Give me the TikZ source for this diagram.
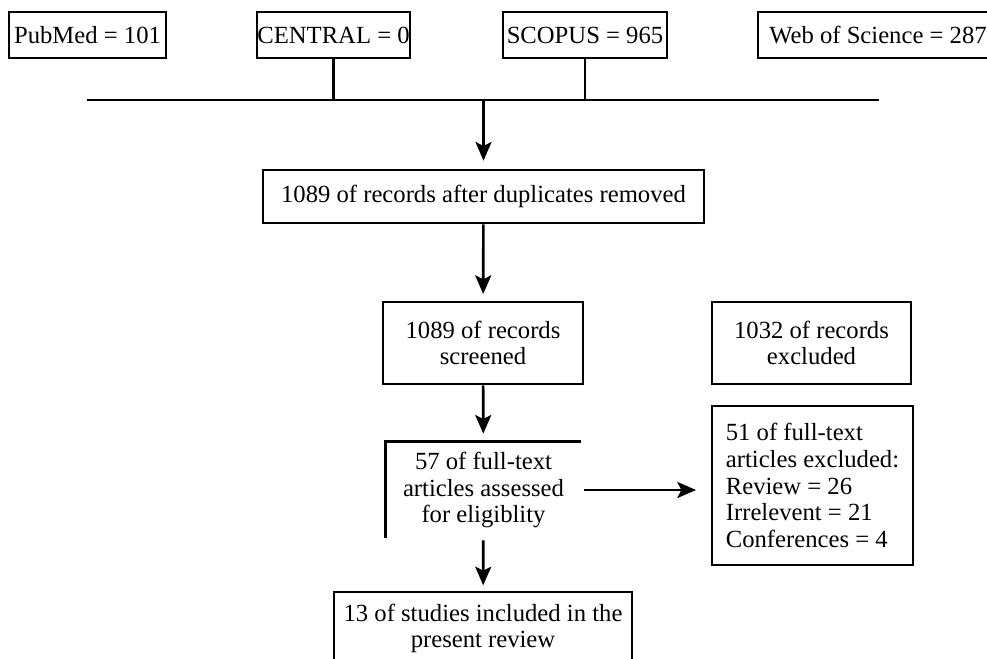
\documentclass[tikz,border=0pt]{standalone}
\usepackage{fontspec}
\setmainfont{Liberation Serif}
\usetikzlibrary{arrows.meta}

\begin{document}
\begin{tikzpicture}[x=0.75pt, y=-0.75pt, line width=2pt,
  font=\fontsize{18.5}{20}\selectfont, >={Stealth[length=14pt, width=12pt, inset=3pt]},
  box/.style={draw, line width=2pt, align=center, inner sep=0pt},
  src/.style={box, minimum height=34.5pt},
  open/.style={align=center, inner sep=0pt}]
\clip (0,0) rectangle (987,659);
% databases
\node[src, minimum width=117.75pt] (pub) at (87.5,35) {PubMed = 101};
\node[src, minimum width=114.75pt] (cen) at (333.5,35) {CENTRAL = 0};
\node[src, minimum width=123pt] (sco) at (585,35) {SCOPUS = 965};
\node[src, minimum width=180pt] (wos) at (878,35) {Web of Science = 287};
\coordinate (busL) at (87,100); \coordinate (busR) at (879,100);
\draw (busL) -- (busR);
\draw (cen) -- (cen |- busL); \draw (sco) -- (sco |- busL);
% screening
\node[box, minimum width=330.75pt, minimum height=39.75pt] (dup) at (483.5,196.5) {1089 of records after duplicates removed};
\node[box, minimum width=150pt, minimum height=61.5pt] (scr) at (483,343) {1089 of records\\ screened};
\node[box, minimum width=149.25pt, minimum height=61.5pt] (exc) at (811.5,343) {1032 of records\\ excluded};
\draw[->, shorten >=6pt] (dup.north |- busL) -- (dup.north);
\draw[->, shorten >=5pt] (dup) -- (scr);
% eligibility
\node[open, minimum width=144.75pt, minimum height=70.5pt] (full) at (483.5,490) {57 of full-text\\ articles assessed\\ for eligiblity};
\draw (full.south west) -- (full.north west) -- (full.north east);
\node[box, align=left, minimum width=150.75pt, minimum height=119.25pt] (ftx) at (812.5,485.5) {51 of full-text\\ articles excluded:\\ Review = 26\\ Irrelevent = 21\\ Conferences = 4};
\draw[->, shorten >=6pt] (scr) -- (full);
\draw[->, shorten <=2pt, shorten >=11pt] (full.east) -- (ftx.west |- full.east);
% included
\node[box, minimum width=223.5pt, minimum height=54.75pt] (incl) at (483,628.5) {13 of studies included in the\\ present review};
\draw[->, shorten <=1.5pt, shorten >=4pt] (full) -- (incl);
\end{tikzpicture}
\end{document}
